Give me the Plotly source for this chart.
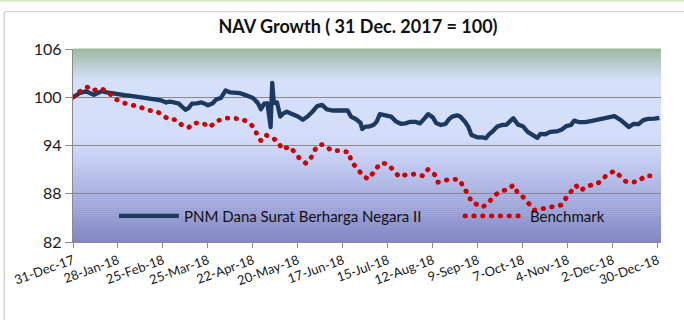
import plotly.graph_objects as go

# ---- data -------------------------------------------------------------
nav_dates = [
    "2017-12-31", "2018-01-04", "2018-01-08", "2018-01-11", "2018-01-13", "2018-01-15",
    "2018-01-18", "2018-01-21", "2018-01-24", "2018-01-27", "2018-01-30", "2018-02-01",
    "2018-02-04", "2018-02-07", "2018-02-11", "2018-02-15", "2018-02-19", "2018-02-21",
    "2018-02-24", "2018-02-27", "2018-03-01", "2018-03-04", "2018-03-07", "2018-03-09",
    "2018-03-11", "2018-03-13", "2018-03-15", "2018-03-18", "2018-03-21", "2018-03-23",
    "2018-03-25", "2018-03-28", "2018-03-30", "2018-04-02", "2018-04-05", "2018-04-08",
    "2018-04-11", "2018-04-14", "2018-04-17", "2018-04-20", "2018-04-22", "2018-04-25",
    "2018-04-27", "2018-04-29", "2018-05-01", "2018-05-03", "2018-05-04", "2018-05-05",
    "2018-05-07", "2018-05-09", "2018-05-11", "2018-05-13", "2018-05-16", "2018-05-20",
    "2018-05-23", "2018-05-26", "2018-05-29", "2018-06-01", "2018-06-04", "2018-06-07",
    "2018-06-11", "2018-06-15", "2018-06-20", "2018-06-22", "2018-06-25", "2018-06-28",
    "2018-06-29", "2018-07-01", "2018-07-03", "2018-07-06", "2018-07-08", "2018-07-10",
    "2018-07-14", "2018-07-17", "2018-07-20", "2018-07-23", "2018-07-26", "2018-07-29",
    "2018-08-01", "2018-08-04", "2018-08-07", "2018-08-09", "2018-08-12", "2018-08-14",
    "2018-08-17", "2018-08-20", "2018-08-22", "2018-08-24", "2018-08-27", "2018-08-29",
    "2018-09-01", "2018-09-03", "2018-09-05", "2018-09-09", "2018-09-12", "2018-09-14",
    "2018-09-16", "2018-09-18", "2018-09-21", "2018-09-24", "2018-09-27", "2018-09-29",
    "2018-10-01", "2018-10-04", "2018-10-07", "2018-10-10", "2018-10-13", "2018-10-16",
    "2018-10-18", "2018-10-21", "2018-10-24", "2018-10-28", "2018-10-31", "2018-11-03",
    "2018-11-06", "2018-11-08", "2018-11-11", "2018-11-15", "2018-11-19", "2018-11-23",
    "2018-11-27", "2018-12-03", "2018-12-07", "2018-12-10", "2018-12-12", "2018-12-15",
    "2018-12-18", "2018-12-21", "2018-12-24", "2018-12-28", "2018-12-31",
]
nav_values = [
    100.0, 100.5, 100.75, 100.5, 100.3, 100.5,
    100.75, 100.6, 100.5, 100.4, 100.2, 100.25,
    100.2, 100.1, 100.0, 99.9, 99.8, 99.6,
    99.6, 99.35, 99.45, 99.35, 99.2, 98.8,
    98.45, 98.65, 99.2, 99.25, 99.35, 99.2,
    99.0, 99.25, 99.7, 99.9, 100.85, 100.6,
    100.6, 100.5, 100.3, 100.1, 99.9, 99.3,
    98.5, 99.2, 99.25, 96.3, 101.8, 99.3,
    99.35, 97.6, 98.0, 98.2, 98.0, 97.6,
    97.2, 97.6, 98.2, 98.9, 99.05, 98.5,
    98.35, 98.35, 98.35, 97.6, 97.3, 96.8,
    96.05, 96.35, 96.35, 96.55, 96.95, 97.9,
    97.7, 97.6, 97.0, 96.7, 96.75, 96.95,
    96.95, 96.75, 97.4, 97.9, 97.5, 96.8,
    96.55, 96.7, 97.25, 97.6, 97.75, 97.6,
    96.95, 96.35, 95.3, 95.0, 95.0, 94.9,
    95.4, 95.7, 96.35, 96.55, 96.6, 96.95,
    97.4, 96.6, 96.4, 95.7, 95.25, 94.95,
    95.45, 95.4, 95.7, 95.75, 95.95, 96.4,
    96.55, 97.1, 96.9, 96.9, 97.05, 97.2,
    97.45, 97.65, 97.15, 96.7, 96.3, 96.7,
    96.65, 97.15, 97.3, 97.35, 97.45,
]

bench_dates = [
    "2017-12-31", "2018-01-04", "2018-01-09", "2018-01-12", "2018-01-17", "2018-01-22",
    "2018-01-25", "2018-01-29", "2018-02-01", "2018-02-05", "2018-02-10", "2018-02-15",
    "2018-02-21", "2018-02-25", "2018-02-28", "2018-03-05", "2018-03-09", "2018-03-13",
    "2018-03-16", "2018-03-22", "2018-03-26", "2018-03-30", "2018-04-04", "2018-04-09",
    "2018-04-15", "2018-04-20", "2018-04-23", "2018-04-25", "2018-04-27", "2018-04-30",
    "2018-05-04", "2018-05-08", "2018-05-10", "2018-05-15", "2018-05-18", "2018-05-21",
    "2018-05-25", "2018-05-28", "2018-05-30", "2018-06-02", "2018-06-05", "2018-06-10",
    "2018-06-15", "2018-06-21", "2018-06-22", "2018-06-25", "2018-06-28", "2018-06-30",
    "2018-07-03", "2018-07-06", "2018-07-09", "2018-07-11", "2018-07-15", "2018-07-19",
    "2018-07-22", "2018-07-27", "2018-08-01", "2018-08-06", "2018-08-09", "2018-08-13",
    "2018-08-15", "2018-08-20", "2018-08-24", "2018-08-29", "2018-08-31", "2018-09-03",
    "2018-09-05", "2018-09-07", "2018-09-12", "2018-09-16", "2018-09-19", "2018-09-23",
    "2018-09-28", "2018-10-01", "2018-10-04", "2018-10-08", "2018-10-11", "2018-10-14",
    "2018-10-17", "2018-10-21", "2018-10-26", "2018-10-31", "2018-11-03", "2018-11-06",
    "2018-11-09", "2018-11-12", "2018-11-16", "2018-11-22", "2018-11-26", "2018-11-28",
    "2018-12-03", "2018-12-07", "2018-12-10", "2018-12-13", "2018-12-18", "2018-12-22",
    "2018-12-28",
]
bench_values = [
    100.0, 100.7, 101.26, 100.8, 101.1, 100.7,
    99.9, 99.47, 99.27, 99.05, 98.85, 98.43,
    98.22, 97.8, 97.3, 97.2, 96.5, 96.23,
    96.8, 96.77, 96.27, 96.97, 97.4, 97.4,
    97.3, 96.77, 96.15, 95.1, 94.6, 95.3,
    94.98, 94.4, 93.53, 93.86, 93.1, 92.4,
    91.78, 92.4, 93.3, 94.1, 94.1, 93.36,
    93.36, 93.15, 92.07, 91.36, 90.55, 90.12,
    89.83, 90.74, 91.45, 91.86, 91.66, 90.83,
    90.1, 90.41, 90.43, 90.22, 91.04, 90.41,
    89.43, 89.68, 89.85, 89.7, 88.74, 88.0,
    86.95, 86.8, 86.33, 86.98, 87.72, 88.3,
    88.55, 89.08, 88.05, 87.46, 86.6, 85.96,
    86.05, 86.17, 86.37, 86.6, 87.5, 88.2,
    89.04, 88.37, 88.98, 89.2, 89.81, 90.33,
    90.83, 90.12, 89.54, 89.42, 89.52, 90.22,
    90.22,
]

title_text = "NAV Growth ( 31 Dec. 2017 = 100)"
nav_name = "PNM Dana Surat Berharga Negara II"
bench_name = "Benchmark"
y_ticks = [82, 88, 94, 100, 106]

FONT = "Lato, 'Open Sans', sans-serif"
NAV_COLOR = "#1c3a5f"
BENCH_COLOR = "#cc0000"
GRID = "#8a8a8a"

# ---- plot-area gradient (top green-grey -> pale blue -> periwinkle) ----
stops = [
    (0.00, (132, 135, 195)),
    (0.25, (168, 176, 225)),
    (0.45, (200, 209, 244)),
    (0.55, (212, 222, 250)),
    (0.84, (213, 224, 251)),
    (1.00, (158, 184, 162)),
]


def mix(t):
    for (t0, c0), (t1, c1) in zip(stops[:-1], stops[1:]):
        if t0 <= t <= t1:
            f = (t - t0) / (t1 - t0)
            return "rgb(%d,%d,%d)" % tuple(round(a + (b - a) * f) for a, b in zip(c0, c1))
    return "rgb(%d,%d,%d)" % stops[-1][1]


shapes = []
bands = 96
for i in range(bands):
    y0 = i / bands
    y1 = (i + 1) / bands
    shapes.append(dict(
        type="rect", xref="paper", yref="paper", x0=0, x1=1, y0=y0, y1=y1 + 0.002,
        fillcolor=mix((y0 + y1) / 2), line=dict(width=0), layer="below",
    ))

# chart frame (left / top edge) and the thin green strip above it
shapes.append(dict(type="line", xref="paper", yref="paper",
                   x0=-0.117, x1=1.04, y0=1.193, y1=1.193,
                   line=dict(color="#c8c8c8", width=1.2)))
shapes.append(dict(type="line", xref="paper", yref="paper",
                   x0=-0.117, x1=-0.117, y0=1.193, y1=-0.42,
                   line=dict(color="#c8c8c8", width=1.2)))
shapes.append(dict(type="rect", xref="paper", yref="paper",
                   x0=-0.13, x1=1.05, y0=1.245, y1=1.26,
                   fillcolor="#d5e8c2", line=dict(width=0)))

fig = go.Figure()
fig.add_trace(go.Scatter(
    x=nav_dates, y=nav_values, name=nav_name, mode="lines",
    line=dict(color=NAV_COLOR, width=4.3),
    legend="legend", showlegend=True,
))
fig.add_trace(go.Scatter(
    x=bench_dates, y=bench_values, name=bench_name, mode="lines",
    line=dict(color=BENCH_COLOR, width=4.8, dash="0.5px,8.3px"),
    legend="legend2", showlegend=True,
))

fig.update_layout(
    width=684, height=320,
    margin=dict(l=73, r=23, t=49, b=78),
    paper_bgcolor="white",
    plot_bgcolor="#d5e0fb",
    showlegend=True,
    font=dict(family=FONT, color="#1a1a1a"),
    title=dict(text="<b>" + title_text + "</b>", x=358 / 684, xanchor="center",
               y=1 - 27 / 320, yanchor="middle",
               font=dict(family=FONT, size=18, color="#111")),
    shapes=shapes,
    legend=dict(orientation="h", x=(114 - 73) / 588, xanchor="left", y=0.134,
                yanchor="middle", bgcolor="rgba(0,0,0,0)", itemwidth=60,
                font=dict(family=FONT, size=15, color="#111")),
    legend2=dict(orientation="h", x=(460 - 73) / 588, xanchor="left", y=0.134,
                 yanchor="middle", bgcolor="rgba(0,0,0,0)", itemwidth=60,
                 font=dict(family=FONT, size=15, color="#111")),
    xaxis=dict(
        type="date", range=["2017-12-31", "2019-01-01"],
        tick0="2017-12-31", dtick=28 * 86400000, tickformat="%-d-%b-%y",
        tickangle=-20, ticks="outside", ticklen=5, tickcolor=GRID,
        showgrid=False, showline=True, linecolor=GRID, linewidth=1.3,
        tickfont=dict(family=FONT, size=13, color="#1a1a1a"),
        automargin=False, zeroline=False,
    ),
    yaxis=dict(
        range=[82, 106], tickvals=y_ticks, ticks="outside", ticklen=7,
        tickcolor=GRID, showgrid=True, gridcolor=GRID, gridwidth=1.3,
        showline=True, linecolor=GRID, linewidth=1.3,
        tickfont=dict(family=FONT, size=16, color="#1a1a1a"),
        automargin=False, zeroline=False,
    ),
)

# round caps turn the dash pattern into dots; round joins soften the NAV line
post = """
document.querySelectorAll('path.js-line').forEach(function (p) {
  p.style.strokeLinejoin = 'round';
  var d = p.style.strokeDasharray;
  if (d && d !== 'none') { p.style.strokeLinecap = 'round'; }
});
"""

fig.write_html("out.html", post_script=post)
